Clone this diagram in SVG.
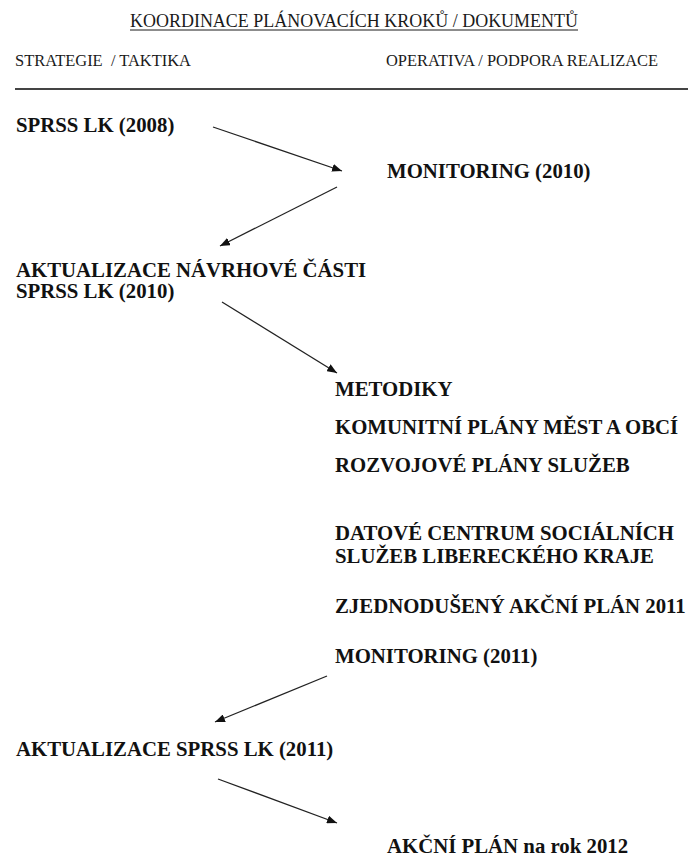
<svg xmlns="http://www.w3.org/2000/svg" width="688" height="859" viewBox="0 0 688 859">
  <defs>
    <marker id="arrowhead" viewBox="0 0 10 8" refX="10" refY="4" markerWidth="10" markerHeight="8" markerUnits="userSpaceOnUse" orient="auto">
      <path d="M0,0 L10,4 L0,8 Z" fill="#111"/>
    </marker>
  </defs>
  <style>
    .hdr { font-family: "Liberation Serif", "Times New Roman", serif; font-size: 17px; fill: #1a1a1a; }
    .title { font-family: "Liberation Serif", "Times New Roman", serif; font-size: 18px; fill: #1a1a1a; }
    .lbl { font-family: "Liberation Serif", "Times New Roman", serif; font-size: 20.8px; font-weight: bold; fill: #111; }
    .conn { stroke: #222; stroke-width: 1.3; fill: none; marker-end: url(#arrowhead); }
  </style>
  <rect width="688" height="859" fill="#fff"/>

  <!-- heading -->
  <g id="heading">
    <text class="title" x="130" y="27" textLength="448" lengthAdjust="spacingAndGlyphs">KOORDINACE PLÁNOVACÍCH KROKŮ / DOKUMENTŮ</text>
    <line x1="130" y1="30" x2="578" y2="30" stroke="#1a1a1a" stroke-width="1"/>
    <text class="hdr" x="15" y="66" textLength="176" lengthAdjust="spacingAndGlyphs" xml:space="preserve">STRATEGIE  / TAKTIKA</text>
    <text class="hdr" x="386" y="66" textLength="272" lengthAdjust="spacingAndGlyphs">OPERATIVA / PODPORA REALIZACE</text>
    <line x1="15" y1="89" x2="688" y2="89" stroke="#444" stroke-width="2"/>
  </g>

  <!-- nodes -->
  <g id="sprss-2008"><text class="lbl" x="16" y="132">SPRSS LK (2008)</text></g>
  <g id="monitoring-2010"><text class="lbl" x="387" y="178">MONITORING (2010)</text></g>
  <g id="aktualizace-2010">
    <text class="lbl" x="16" y="277">AKTUALIZACE NÁVRHOVÉ ČÁSTI</text>
    <text class="lbl" x="16" y="298">SPRSS LK (2010)</text>
  </g>
  <g id="metodiky"><text class="lbl" x="335" y="396">METODIKY</text></g>
  <g id="komunitni-plany"><text class="lbl" x="335" y="434">KOMUNITNÍ PLÁNY MĚST A OBCÍ</text></g>
  <g id="rozvojove-plany"><text class="lbl" x="335" y="472">ROZVOJOVÉ PLÁNY SLUŽEB</text></g>
  <g id="datove-centrum">
    <text class="lbl" x="335" y="540">DATOVÉ CENTRUM SOCIÁLNÍCH</text>
    <text class="lbl" x="335" y="563">SLUŽEB LIBERECKÉHO KRAJE</text>
  </g>
  <g id="akcni-plan-2011"><text class="lbl" x="335" y="613">ZJEDNODUŠENÝ AKČNÍ PLÁN 2011</text></g>
  <g id="monitoring-2011"><text class="lbl" x="335" y="663">MONITORING (2011)</text></g>
  <g id="aktualizace-2011"><text class="lbl" x="16" y="756">AKTUALIZACE SPRSS LK (2011)</text></g>
  <g id="akcni-plan-2012"><text class="lbl" x="387" y="853">AKČNÍ PLÁN na rok 2012</text></g>

  <!-- connectors -->
  <g id="connectors">
    <line class="conn" x1="213" y1="127" x2="342" y2="171"/>
    <line class="conn" x1="337" y1="187" x2="220" y2="246"/>
    <line class="conn" x1="222" y1="302" x2="337" y2="373"/>
    <line class="conn" x1="327" y1="676" x2="215" y2="722"/>
    <line class="conn" x1="218" y1="779" x2="337" y2="823"/>
  </g>
</svg>
